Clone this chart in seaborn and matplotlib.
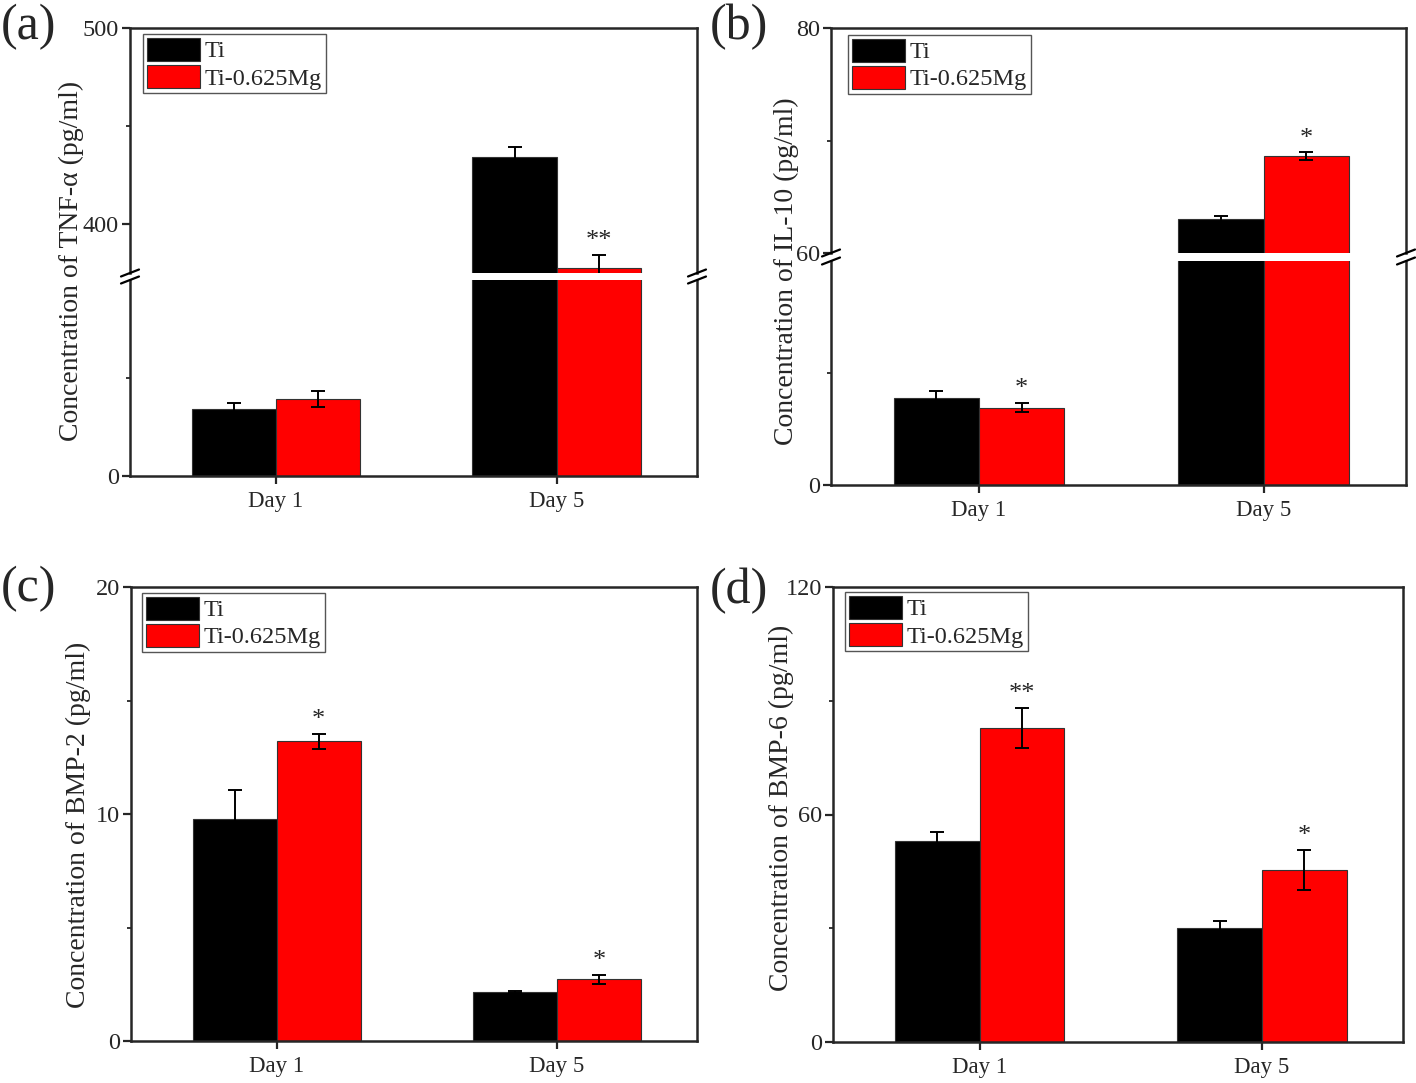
import numpy as np
import pandas as pd
import matplotlib
matplotlib.use('Agg')
import matplotlib.pyplot as plt
from matplotlib.lines import Line2D
from matplotlib.ticker import FixedLocator
from matplotlib.container import BarContainer
import seaborn as sns

# data (mean, error)
days = ['Day 1', 'Day 5']
groups = ['Ti', 'Ti-0.625Mg']
colors = ['black', 'red']

tnf_ti = [68.5, 434.2]
tnf_ti_err = [6.5, 4.9]
tnf_mg = [78.2, 377.4]
tnf_mg_err = [8.3, 6.8]
tnf_stars = ['', '**']

il10_ti = [7.8, 63.0]
il10_ti_err = [0.58, 0.3]
il10_mg = [6.9, 68.6]
il10_mg_err = [0.42, 0.34]
il10_stars = ['*', '*']

bmp2_ti = [9.76, 2.15]
bmp2_ti_err = [1.3, 0.05]
bmp2_mg = [13.2, 2.72]
bmp2_mg_err = [0.34, 0.2]
bmp2_stars = ['*', '*']

bmp6_ti = [52.9, 30.0]
bmp6_ti_err = [2.4, 1.8]
bmp6_mg = [82.9, 45.3]
bmp6_mg_err = [5.3, 5.3]
bmp6_stars = ['**', '*']

sns.set_theme(style='ticks')
plt.rcParams['font.family'] = ['Liberation Serif', 'DejaVu Serif']

W, H = 1416, 1083
fig = plt.figure(figsize=(W / 100, H / 100), dpi=100)


def box(l, t, r, b):
    return [l / W, 1 - b / H, (r - l) / W, (b - t) / H]


def make_df(ti, mg):
    return pd.DataFrame({'day': days * 2,
                         'group': [groups[0]] * 2 + [groups[1]] * 2,
                         'value': ti + mg})


def draw(ax, ti, ti_err, mg, mg_err, stars, legend=False):
    df = make_df(ti, mg)
    sns.barplot(data=df, x='day', y='value', hue='group', hue_order=groups,
                palette=colors, width=0.6, saturation=1, errorbar=None,
                edgecolor='#333333', linewidth=0.8, ax=ax, legend=legend)
    errs = [ti_err, mg_err]
    bars = [c for c in ax.containers if isinstance(c, BarContainer)]
    for k, cont in enumerate(bars):
        for j, p in enumerate(cont.patches):
            xc = p.get_x() + p.get_width() / 2
            h = p.get_height()
            ax.errorbar(xc, h, yerr=errs[k][j], fmt='none', ecolor='black',
                        elinewidth=1.4, capsize=5, capthick=1.4)
            if k == 1 and stars[j]:
                ax.annotate(stars[j], (xc, h + errs[k][j]), xytext=(0, 2),
                            textcoords='offset points', ha='center', va='bottom',
                            fontsize=19)
    ax.set_xlim(-0.52, 1.5)
    ax.set_xlabel('')
    ax.set_ylabel('')
    for s in ax.spines.values():
        s.set_linewidth(1.8)
        s.set_visible(True)
    ax.tick_params(axis='both', which='major', direction='out', length=6,
                   width=1.6, labelsize=16.5, pad=2, right=False, top=False)
    ax.tick_params(axis='x', pad=5)
    ax.tick_params(axis='y', labelsize=17.5)
    ax.tick_params(axis='y', which='minor', direction='out', length=3, width=1.3)


def style_legend(ax, x, y):
    h, l = ax.get_legend_handles_labels()
    ax.legend(h, l, loc='upper left', bbox_to_anchor=(x / W, 1 - y / H),
              bbox_transform=fig.transFigure, borderaxespad=0, fontsize=17.5,
              frameon=True, fancybox=False, framealpha=1, edgecolor='#555555',
              handlelength=2.18, handleheight=1.07, handletextpad=0.22,
              labelspacing=0.1, borderpad=0.15)
    ax.get_legend().get_frame().set_linewidth(1.0)


def break_marks(x_left, x_right, y):
    for x in (x_left, x_right):
        fig.add_artist(Line2D([(x - 9) / W, (x + 9) / W],
                              [1 - (y + 3.5) / H, 1 - (y - 3.5) / H],
                              transform=fig.transFigure, color='black', lw=1.6))


def broken_panel(xl, xr, t_top, b_top, t_bot, b_bot, top_lim, bot_lim,
                 top_major, top_minor, bot_minor, ti, ti_err, mg, mg_err, stars,
                 leg_xy):
    ax_t = fig.add_axes(box(xl, t_top, xr, b_top))
    ax_b = fig.add_axes(box(xl, t_bot, xr, b_bot))
    draw(ax_t, ti, ti_err, mg, mg_err, stars, legend=True)
    draw(ax_b, ti, ti_err, mg, mg_err, stars)
    ax_t.set_ylim(*top_lim)
    ax_b.set_ylim(*bot_lim)
    ax_t.spines['bottom'].set_visible(False)
    ax_b.spines['top'].set_visible(False)
    ax_t.tick_params(axis='x', bottom=False, labelbottom=False)
    ax_t.yaxis.set_major_locator(FixedLocator(top_major))
    ax_t.yaxis.set_minor_locator(FixedLocator(top_minor))
    ax_b.yaxis.set_major_locator(FixedLocator([0]))
    ax_b.yaxis.set_minor_locator(FixedLocator(bot_minor))
    break_marks(xl, xr, b_top)
    break_marks(xl, xr, t_bot)
    style_legend(ax_t, *leg_xy)
    return ax_t, ax_b


def plain_panel(xl, xr, t, b, ylim, major, minor, ti, ti_err, mg, mg_err,
                stars, leg_xy):
    ax = fig.add_axes(box(xl, t, xr, b))
    draw(ax, ti, ti_err, mg, mg_err, stars, legend=True)
    ax.set_ylim(*ylim)
    ax.yaxis.set_major_locator(FixedLocator(major))
    ax.yaxis.set_minor_locator(FixedLocator(minor))
    style_legend(ax, *leg_xy)
    return ax


# (a) TNF-alpha, broken axis 200 -> 375
broken_panel(130, 697, 28, 273, 280, 476, (375, 500), (0, 200),
             [400, 500], [450], [100], tnf_ti, tnf_ti_err, tnf_mg, tnf_mg_err,
             tnf_stars, (143, 34))
# (b) IL-10, broken axis 20 -> 60
broken_panel(831, 1406, 28, 253, 261, 485, (60, 80), (0, 20),
             [60, 80], [70], [10], il10_ti, il10_ti_err, il10_mg, il10_mg_err,
             il10_stars, (848, 35))
# (c) BMP-2
plain_panel(131, 697, 587, 1041, (0, 20), [0, 10, 20], [5, 15],
            bmp2_ti, bmp2_ti_err, bmp2_mg, bmp2_mg_err, bmp2_stars, (142, 593))
# (d) BMP-6
plain_panel(833, 1403, 587, 1042, (0, 120), [0, 60, 120], [30, 90],
            bmp6_ti, bmp6_ti_err, bmp6_mg, bmp6_mg_err, bmp6_stars, (845, 592))

ylabels = [('Concentration of TNF-α (pg/ml)', 71, 261),
           ('Concentration of IL-10 (pg/ml)', 786, 271),
           ('Concentration of BMP-2 (pg/ml)', 78, 825),
           ('Concentration of BMP-6 (pg/ml)', 781, 808)]
for txt, x, y in ylabels:
    fig.text(x / W, 1 - y / H, txt, rotation=90, ha='center', va='center',
             fontsize=20)

letters = [('(a)', 29, 27), ('(b)', 739, 27), ('(c)', 29, 589), ('(d)', 739, 591)]
for txt, x, y in letters:
    fig.text(x / W, 1 - y / H, txt, ha='center', va='center', fontsize=36)

fig.savefig('out.png', dpi=100)
